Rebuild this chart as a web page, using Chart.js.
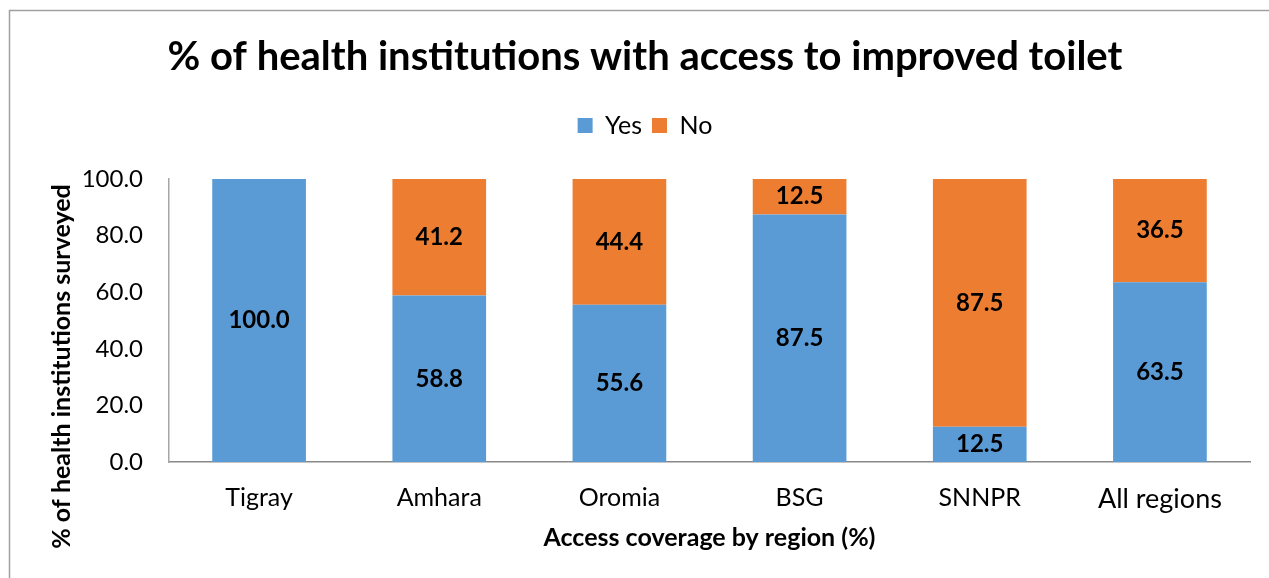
<!DOCTYPE html>
<html>
<head>
<meta charset="utf-8">
<script src="https://cdn.jsdelivr.net/npm/chart.js@4.4.1/dist/chart.umd.min.js"></script>
<style>
  body { margin: 0; background: #fff; }
  #wrap { width: 1269px; height: 578px; position: relative; }
</style>
</head>
<body>
<div id="wrap"><canvas id="toilet-chart"></canvas></div>
<script>
"use strict";
Chart.defaults.font.family = "Lato, 'Open Sans', sans-serif";
Chart.defaults.color = '#000';

const regions = ["Tigray", "Amhara", "Oromia", "BSG", "SNNPR", "All regions"];
const yesValues = [100.0, 58.8, 55.6, 87.5, 12.5, 63.5];
const noValues = [0.0, 41.2, 44.4, 12.5, 87.5, 36.5];
const yTitle = '% of health institutions surveyed';

// thin frame along the top and left edges
const framePlugin = {
    id: 'frame',
    beforeDraw(chart) {
        const ctx = chart.ctx;
        ctx.save();
        ctx.strokeStyle = '#a0a0a0';
        ctx.lineWidth = 1.5;
        ctx.beginPath();
        ctx.moveTo(9.5, 600);
        ctx.lineTo(9.5, 10.5);
        ctx.lineTo(1300, 10.5);
        ctx.stroke();
        ctx.restore();
    }
};

// extra room between the legend and the plot
const legendGapPlugin = {
    id: 'legendGap',
    beforeInit(chart) {
        const fit = chart.legend.fit;
        chart.legend.fit = function () {
            fit.bind(chart.legend)();
            this.height += 31;
        };
    }
};

// y axis title, sitting a bit below the middle of the axis
const yTitlePlugin = {
    id: 'yTitle',
    afterDraw(chart) {
        const ctx = chart.ctx;
        const area = chart.chartArea;
        ctx.save();
        ctx.font = "bold 25px Lato, 'Open Sans', sans-serif";
        ctx.fillStyle = '#000';
        ctx.textAlign = 'center';
        ctx.textBaseline = 'middle';
        ctx.translate(62, (area.top + area.bottom) / 2 + 46);
        ctx.rotate(-Math.PI / 2);
        ctx.fillText(yTitle, 0, 0);
        ctx.restore();
    }
};

// value labels in the middle of each stacked segment
const valueLabels = {
    id: 'valueLabels',
    afterDatasetsDraw(chart) {
        const ctx = chart.ctx;
        ctx.save();
        ctx.font = "bold 24px Lato, 'Open Sans', sans-serif";
        ctx.fillStyle = '#000';
        ctx.textAlign = 'center';
        ctx.textBaseline = 'middle';
        chart.data.datasets.forEach((ds, i) => {
            chart.getDatasetMeta(i).data.forEach((bar, j) => {
                const v = ds.data[j];
                if (!v) return;
                ctx.fillText(v.toFixed(1), bar.x, (bar.y + bar.base) / 2);
            });
        });
        ctx.restore();
    }
};

const ctx = document.getElementById('toilet-chart');
new Chart(ctx, {
    type: 'bar',
    data: {
        labels: regions,
        datasets: [{
                label: 'Yes',
                data: yesValues,
                backgroundColor: '#5b9bd5',
                borderWidth: 0
            }, {
                label: 'No',
                data: noValues,
                backgroundColor: '#ed7d31',
                borderWidth: 0
            }]
    },
    options: {
        responsive: true,
        maintainAspectRatio: false,
        animation: false,
        layout: {
            padding: { left: 40, right: 19, top: 0, bottom: 0 }
        },
        datasets: {
            bar: { barPercentage: 0.52, categoryPercentage: 1 }
        },
        scales: {
            x: {
                stacked: true,
                grid: { display: false, drawTicks: false },
                border: { display: true, color: '#898989', width: 1.5 },
                ticks: {
                    padding: 21,
                    font: (c) => ({ size: c.index === 5 ? 27 : 25 })
                },
                title: {
                    display: true,
                    text: 'Access coverage by region (%)',
                    font: { size: 25, weight: 'bold' },
                    padding: { top: 0, bottom: 25 }
                },
                afterFit(scale) { scale.height = 116; }
            },
            y: {
                stacked: true,
                min: 0,
                max: 100,
                grid: { display: false, drawTicks: false },
                border: { display: true, color: '#a6a6a6', width: 1.5 },
                ticks: {
                    stepSize: 20,
                    padding: 26,
                    font: { size: 24 },
                    callback: (v) => v.toFixed(1)
                },
                afterFit(scale) { scale.width = 129; }
            }
        },
        plugins: {
            title: {
                display: true,
                text: '% of health institutions with access to improved toilet',
                font: { size: 40, weight: 'bold' },
                padding: { top: 33, bottom: 22 }
            },
            legend: {
                labels: {
                    font: { size: 25 },
                    boxWidth: 15,
                    boxHeight: 15,
                    padding: 10
                }
            },
            tooltip: { enabled: false }
        }
    },
    plugins: [framePlugin, legendGapPlugin, yTitlePlugin, valueLabels]
});
</script>
</body>
</html>
